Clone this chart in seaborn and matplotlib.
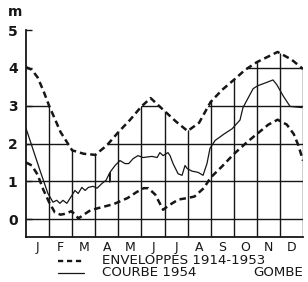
import matplotlib
matplotlib.use("Agg")
import matplotlib.pyplot as plt
from matplotlib.lines import Line2D
from matplotlib.patches import Polygon
import pandas as pd
import seaborn as sns

months = ["J", "F", "M", "A", "M", "J", "J", "A", "S", "O", "N", "D"]

# upper envelope 1914-1953 (m), x in months from 1 Jan
up_x = [0, 0.25, 0.5, 0.75, 1.0, 1.5, 2.0, 2.5, 3.0, 3.5, 4.0, 4.5, 5.0, 5.4,
        6.0, 6.5, 7.0, 7.5, 8.0, 8.5, 9.0, 9.5, 10.0, 10.5, 10.9, 11.5, 12.0]
up_v = [4.02, 3.95, 3.75, 3.4, 3.0, 2.3, 1.82, 1.73, 1.7, 1.95, 2.3, 2.62, 2.98, 3.2,
        2.86, 2.58, 2.33, 2.55, 3.1, 3.42, 3.68, 3.95, 4.15, 4.3, 4.42, 4.22, 3.97]

# lower envelope 1914-1953
lo_x = [0, 0.25, 0.5, 0.75, 1.0, 1.25, 1.5, 1.75, 1.95, 2.1, 2.27, 2.5, 2.8, 3.3,
        3.8, 4.4, 4.8, 5.1, 5.3, 5.6, 5.94, 6.2, 6.6, 7.0, 7.3, 7.7, 8.0, 8.5,
        9.0, 9.6, 10.0, 10.5, 10.9, 11.3, 11.6, 11.8, 12.0]
lo_v = [1.5, 1.42, 1.18, 0.78, 0.45, 0.18, 0.12, 0.15, 0.21, 0.15, 0.02, 0.12, 0.24, 0.32,
        0.4, 0.56, 0.72, 0.82, 0.82, 0.65, 0.25, 0.37, 0.52, 0.56, 0.6, 0.82, 1.1, 1.4,
        1.72, 2.05, 2.25, 2.5, 2.63, 2.5, 2.25, 1.95, 1.55]

# courbe 1954
c_x = [0, 0.1, 0.3, 0.6, 0.95, 1.17, 1.33, 1.47, 1.6, 1.77, 1.99, 2.12, 2.26, 2.42,
       2.56, 2.7, 2.9, 3.08, 3.3, 3.47, 3.62, 3.63, 3.65, 3.86, 4.07, 4.29, 4.45,
       4.64, 4.85, 5.07, 5.46, 5.68, 5.8, 5.94, 6.15, 6.24, 6.37, 6.59, 6.76, 6.89,
       6.98, 7.19, 7.45, 7.67, 7.84, 7.97, 8.19, 8.6, 8.93, 9.27, 9.4, 9.62, 9.84,
       10.05, 10.36, 10.7, 10.87, 11.14, 11.44, 11.96]
c_v = [2.4, 2.22, 1.85, 1.3, 0.68, 0.45, 0.5, 0.42, 0.5, 0.42, 0.63, 0.76, 0.68, 0.84,
       0.76, 0.84, 0.87, 0.82, 0.95, 1.03, 1.22, 0.98, 1.25, 1.42, 1.55, 1.47, 1.47,
       1.6, 1.68, 1.63, 1.66, 1.63, 1.76, 1.68, 1.76, 1.68, 1.47, 1.2, 1.16, 1.42,
       1.34, 1.27, 1.24, 1.16, 1.47, 1.87, 2.08, 2.26, 2.39, 2.62, 2.95, 3.2, 3.45,
       3.53, 3.6, 3.68, 3.55, 3.26, 2.98, 2.95]

y_ticks = [0, 1, 2, 3, 4, 5]
legend_labels = ["ENVELOPPES 1914-1953", "COURBE 1954"]

sns.set_theme(style="white")
plt.rcParams["font.family"] = ["DejaVu Sans"]
ink = "#161616"

fig = plt.figure(figsize=(3.08, 2.82), dpi=100)
ax = fig.add_axes([26 / 308, 1 - 237 / 282, 277 / 308, 207 / 282])

up = pd.DataFrame({"x": up_x, "v": up_v})
lo = pd.DataFrame({"x": lo_x, "v": lo_v})
c54 = pd.DataFrame({"x": c_x, "v": c_v})

# grid lines only below the upper envelope
clip = Polygon(list(zip(up_x, up_v)) + [(12, -0.47), (0, -0.47)],
               closed=True, transform=ax.transData, facecolor="none", edgecolor="none")
ax.add_patch(clip)
vl = ax.vlines(range(1, 13), -0.47, 5, color=ink, lw=1.0, zorder=1)
hl = ax.hlines(y_ticks, 0, 12, color=ink, lw=1.0, zorder=1)
vl.set_clip_path(clip)
hl.set_clip_path(clip)

dash = (0, (2.6, 1.6))
sns.lineplot(data=up, x="x", y="v", ax=ax, color=ink, lw=1.8, linestyle=dash,
             estimator=None, sort=False, zorder=3)
sns.lineplot(data=lo, x="x", y="v", ax=ax, color=ink, lw=1.8, linestyle=dash,
             estimator=None, sort=False, zorder=3)
sns.lineplot(data=c54, x="x", y="v", ax=ax, color=ink, lw=0.9,
             estimator=None, sort=False, zorder=3)

ax.set_xlim(0, 12)
ax.set_ylim(-0.47, 5)
ax.set_xticks([i + 0.5 for i in range(12)])
ax.set_xticklabels(months, fontsize=9)
ax.set_yticks(y_ticks)
ax.set_yticklabels([str(t) for t in y_ticks], fontsize=10, fontweight="bold")
ax.tick_params(axis="x", length=0, pad=3, colors=ink)
ax.tick_params(axis="y", direction="in", length=4, width=1.0, pad=6, colors=ink, left=True)
ax.set_xlabel("")
ax.set_ylabel("")
for side in ["top", "right"]:
    ax.spines[side].set_visible(False)
for side in ["left", "bottom"]:
    ax.spines[side].set_color(ink)
    ax.spines[side].set_linewidth(1.3)

fig.text(15 / 308, 1 - 12 / 282, "m", fontsize=10, fontweight="bold",
         color=ink, ha="center", va="center")

# hand-placed legend below the axes
W, H = 308, 282
for yy, ls, lw, lab in [(261, (0, (2.2, 1.6)), 1.7, legend_labels[0]),
                        (273, "-", 0.9, legend_labels[1])]:
    fig.add_artist(Line2D([58 / W, 84 / W], [1 - yy / H] * 2, transform=fig.transFigure,
                          color=ink, lw=lw, linestyle=ls))
    fig.text(102 / W, 1 - yy / H, lab, fontsize=9.6, color=ink, ha="left", va="center")
fig.text(303 / W, 1 - 273 / H, "GOMBE", fontsize=9.6, color=ink, ha="right", va="center")

fig.savefig("out.png", dpi=100, facecolor="white")
